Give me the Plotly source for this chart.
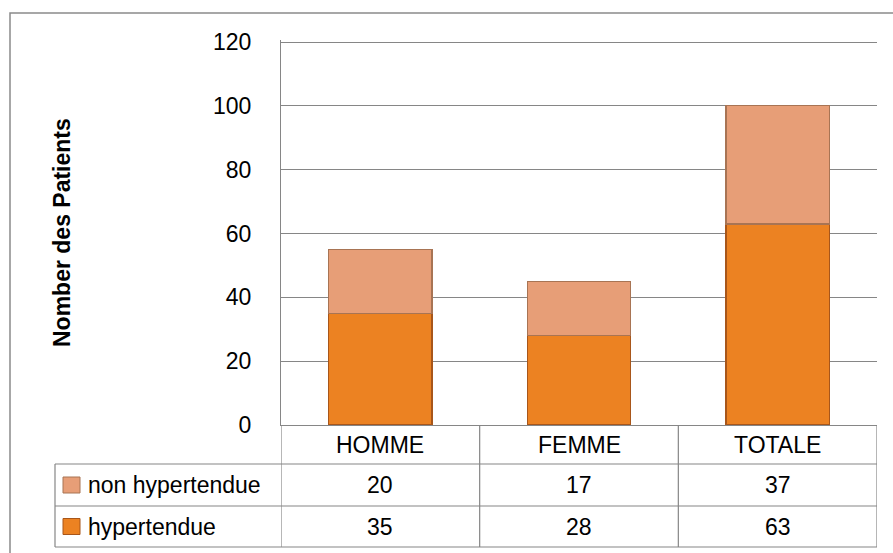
import plotly.graph_objects as go

# ---- data ----
categories = ["HOMME", "FEMME", "TOTALE"]
series_names = ["non hypertendue", "hypertendue"]
non_hypertendue = [20, 17, 37]
hypertendue = [35, 28, 63]
y_ticks = [0, 20, 40, 60, 80, 100, 120]
y_title = "Nomber des Patients"

# ---- layout helpers (pixel -> paper) ----
W, H = 893, 553
def px(x):
    return x / W
def py(y):
    return 1 - y / H

FONT = "Liberation Sans, Arial, sans-serif"
FS = 23
GRID = "#868686"

col_hyp = "#EC8222"
col_hyp_line = "#A8561A"
col_non = "#E79E77"
col_non_line = "#A87454"

Y_MAX = 120.5
PX_PER_UNIT = (425 - 42) / 120.0
top_px = 425 - Y_MAX * PX_PER_UNIT

fig = go.Figure()
fig.add_trace(go.Bar(
    x=categories, y=hypertendue, name=series_names[1],
    marker=dict(color=col_hyp, line=dict(color=col_hyp_line, width=1.2)),
    showlegend=False,
))
fig.add_trace(go.Bar(
    x=categories, y=non_hypertendue, name=series_names[0],
    marker=dict(color=col_non, line=dict(color=col_non_line, width=1.2)),
    showlegend=False,
))

shapes = []
annotations = []

# outer chart border (left and top visible)
shapes.append(dict(type="rect", xref="paper", yref="paper",
                   x0=px(10), x1=1.05, y0=-0.05, y1=py(13),
                   line=dict(color="#8a8a8a", width=1.5), layer="below"))

# data table grid
row_y = [425, 464, 506, 547]
for yy in row_y[1:]:
    shapes.append(dict(type="line", xref="paper", yref="paper",
                       x0=px(55), x1=px(877), y0=py(yy), y1=py(yy),
                       line=dict(color=GRID, width=1.2)))
shapes.append(dict(type="line", xref="paper", yref="paper",
                   x0=px(55), x1=px(55), y0=py(464), y1=py(547),
                   line=dict(color=GRID, width=1.2)))
for i in range(len(categories) + 1):
    shapes.append(dict(type="line", xref="x", yref="paper",
                       x0=i - 0.5, x1=i - 0.5, y0=py(425), y1=py(547),
                       line=dict(color=GRID, width=1.2)))

# header row: category labels
for c in categories:
    annotations.append(dict(xref="x", yref="paper", x=c, y=py(444.5),
                            text=c, showarrow=False, xanchor="center", yanchor="middle",
                            font=dict(family=FONT, size=FS, color="black")))

# value rows with legend keys
rows = [(series_names[0], non_hypertendue, col_non, col_non_line, 485),
        (series_names[1], hypertendue, col_hyp, col_hyp_line, 526.5)]
for name, vals, col, lcol, yc in rows:
    shapes.append(dict(type="rect", xref="paper", yref="paper",
                       x0=px(63), x1=px(80), y0=py(yc + 8), y1=py(yc - 8),
                       fillcolor=col, line=dict(color=lcol, width=1)))
    annotations.append(dict(xref="paper", yref="paper", x=px(86), y=py(yc),
                            text=name, showarrow=False, xanchor="left", yanchor="middle",
                            font=dict(family=FONT, size=FS, color="black")))
    for c, v in zip(categories, vals):
        annotations.append(dict(xref="x", yref="paper", x=c, y=py(yc),
                                text=str(v), showarrow=False, xanchor="center", yanchor="middle",
                                font=dict(family=FONT, size=FS, color="black")))

# y axis title
annotations.append(dict(xref="paper", yref="paper", x=px(62), y=py(233),
                        text="<b>%s</b>" % y_title, showarrow=False, textangle=-90,
                        xanchor="center", yanchor="middle",
                        font=dict(family=FONT, size=FS, color="black")))

fig.update_layout(
    width=W, height=H,
    margin=dict(l=0, r=0, t=0, b=0, pad=0, autoexpand=False),
    paper_bgcolor="white", plot_bgcolor="white",
    barmode="stack", bargap=0.48,
    showlegend=False,
    font=dict(family=FONT, size=FS, color="black"),
    xaxis=dict(domain=[px(281), px(877)], showticklabels=False, ticks="",
               showgrid=False, zeroline=False, showline=True, linecolor=GRID, linewidth=1.2,
               range=[-0.5, 2.5], fixedrange=True, automargin=False),
    yaxis=dict(domain=[py(425), py(top_px)], range=[0, Y_MAX], tickvals=y_ticks,
               ticks="outside", ticklen=24, tickcolor="rgba(0,0,0,0)",
               showgrid=True, gridcolor=GRID, gridwidth=1.2, zeroline=False,
               showline=True, linecolor=GRID, linewidth=1.2, automargin=False,
               tickfont=dict(family=FONT, size=FS, color="black"), fixedrange=True),
    shapes=shapes, annotations=annotations,
)

fig.write_html("out.html", config={"displayModeBar": False})
